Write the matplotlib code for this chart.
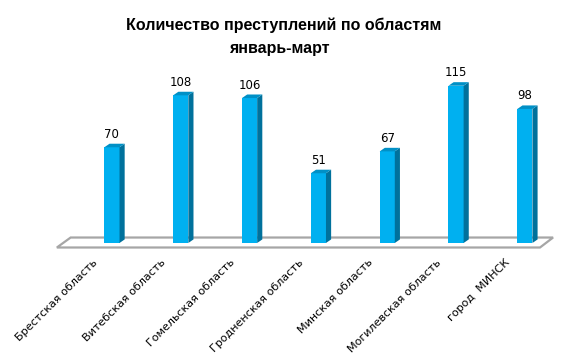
import matplotlib
matplotlib.use("Agg")
import matplotlib.pyplot as plt
from matplotlib.patches import Polygon

# данные
oblasti = ["Брестская область", "Витебская область", "Гомельская область",
           "Гродненская область", "Минская область", "Могилевская область",
           "город  МИНСК"]
prestupleniya = [70, 108, 106, 51, 67, 115, 98]

# цвета граней столбцов
c_front = "#00B0F0"
c_side = "#00719C"
c_top = "#0090C6"

fig = plt.figure(figsize=(5.78, 3.55), dpi=100)
ax = fig.add_axes([0.0865, 0.277, 0.893, 0.520])
ax.set_xlim(-0.9, 6.6)
ax.set_ylim(-10, 125)
ax.axis("off")

w = 0.22      # ширина столбца
dx = 0.075    # глубина по x
dy = 2.6      # глубина по y

# пол диаграммы
x_l, x_r = -0.80, 6.22
floor = Polygon([(x_l, -3.3), (x_r, -3.3), (x_r + 0.19, 4.0), (x_l + 0.20, 4.0)],
                closed=True, facecolor="white", edgecolor="#a6a6a6", lw=1.6, zorder=1)
ax.add_patch(floor)

xs = range(len(oblasti))
ax.bar(xs, prestupleniya, width=w, color=c_front, zorder=3)
for i, v in zip(xs, prestupleniya):
    x0, x1 = i - w / 2, i + w / 2
    ax.add_patch(Polygon([(x1, 0), (x1 + dx, dy), (x1 + dx, v + dy), (x1, v)],
                         closed=True, facecolor=c_side, edgecolor="none", zorder=3))
    ax.add_patch(Polygon([(x0, v), (x1, v), (x1 + dx, v + dy), (x0 + dx, v + dy)],
                         closed=True, facecolor=c_top, edgecolor="none", zorder=3))
    ax.text(i, v + 9.5, str(v), ha="center", va="center", fontsize=8.5, color="black")
    ax.text(i - 0.29, -10.5, oblasti[i], ha="right", va="top", rotation=45,
            rotation_mode="anchor", fontsize=8, color="black")

fig.text(0.49, 0.928, "Количество преступлений по областям", ha="center", va="center",
         fontsize=11.5, fontweight="bold", family="Liberation Sans")
fig.text(0.483, 0.863, "январь-март", ha="center", va="center",
         fontsize=11.5, fontweight="bold", family="Liberation Sans")

fig.savefig("out.png", dpi=100)
